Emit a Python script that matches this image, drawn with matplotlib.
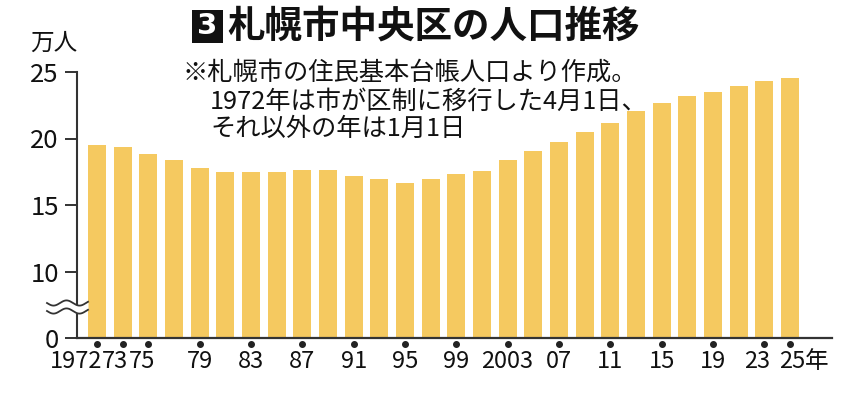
import numpy as np
import matplotlib
matplotlib.use("Agg")
import matplotlib.pyplot as plt
from matplotlib.transforms import offset_copy
from matplotlib.patches import Rectangle

plt.rcParams['font.family'] = ['Noto Sans CJK JP', 'DejaVu Sans']

# ---- data (population, 10k people) ----
years = [1972, 1973, 1975, 1977, 1979, 1981, 1983, 1985, 1987, 1989, 1991, 1993,
         1995, 1997, 1999, 2001, 2003, 2005, 2007, 2009, 2011, 2013, 2015, 2017,
         2019, 2021, 2023, 2025]
population = [19.51, 19.36, 18.81, 18.36, 17.76, 17.50, 17.50, 17.48, 17.66, 17.66,
              17.18, 16.98, 16.65, 16.98, 17.31, 17.56, 18.38, 19.06, 19.76, 20.49,
              21.14, 22.07, 22.65, 23.16, 23.46, 23.92, 24.32, 24.54]
labeled_years = [1972, 1973, 1975, 1979, 1983, 1987, 1991, 1995, 1999, 2003, 2007,
                 2011, 2015, 2019, 2023, 2025]
tick_labels = ['1972', '73', '75', '79', '83', '87', '91', '95', '99', '2003', '07',
               '11', '15', '19', '23', '25']
yticks = [0, 10, 15, 20, 25]
ytick_labels = ['0', '10', '15', '20', '25']

title = '札幌市中央区の人口推移'
note_lines = ['※札幌市の住民基本台帳人口より作成。',
              '1972年は市が区制に移行した4月1日、',
              'それ以外の年は1月1日']

NUM_FONT = ['Noto Sans CJK JP', 'DejaVu Sans']

W, H = 849, 394
fig = plt.figure(figsize=(W / 100, H / 100), dpi=100)
fig.patch.set_facecolor('white')

ax = fig.add_axes([77 / W, 1 - 338 / H, (832 - 77) / W, (338 - 72) / H])


def fwd(v):
    v = np.asarray(v, dtype=float)
    return np.where(v >= 10, v - 5, v / 2)


def inv(u):
    u = np.asarray(u, dtype=float)
    return np.where(u >= 5, u + 5, u * 2)


ax.set_yscale('function', functions=(fwd, inv))

x = np.arange(len(years))
ax.bar(x, population, width=0.7, color='#F5C960', zorder=2)
ax.set_xlim(-0.78, len(years) - 1 + 1.64)
ax.set_ylim(0, 25)

for s in ['top', 'right', 'bottom']:
    ax.spines[s].set_visible(False)
ax.spines['left'].set_color('#333333')
ax.spines['left'].set_linewidth(1.5)
ax.plot([0, 1], [0, 0], transform=ax.transAxes, color='#333333', lw=1.6,
        clip_on=False, zorder=4)

ax.set_xticks([])
ax.set_yticks(yticks)
ax.set_yticklabels(ytick_labels)
ax.yaxis.set_minor_locator(matplotlib.ticker.NullLocator())
ax.tick_params(axis='y', length=9, width=1.4, color='#333333', pad=4,
               labelsize=18.5)
for lbl in ax.get_yticklabels():
    lbl.set_family(NUM_FONT)
    lbl.set_color('#111111')

# dots and x labels
idx_of = {y: i for i, y in enumerate(years)}
label_idx = [idx_of[y] for y in labeled_years]
dot_tr = offset_copy(ax.transData, fig=fig, y=-6, units='dots')
ax.plot(label_idx, [0] * len(label_idx), 'o', ms=4, color='#222222',
        transform=dot_tr, clip_on=False, zorder=5)

shift = {1972: -0.8, 1973: -0.28, 1975: -0.25, 2023: -0.29, 2025: 0.08}
lab_tr = offset_copy(ax.transData, fig=fig, y=-23, units='dots')
for yr, i, lbl in zip(labeled_years, label_idx, tick_labels):
    ax.text(i + shift.get(yr, 0), 0, lbl, transform=lab_tr, ha='center',
            va='center', fontsize=17, color='#111111', family=NUM_FONT)
nen_tr = offset_copy(ax.transData, fig=fig, x=15, y=-23, units='dots')
ax.text(label_idx[-1], 0, '年', transform=nen_tr, ha='left', va='center',
        fontsize=17, color='#111111')

# unit label
fig.text(54 / W, 1 - 43 / H, '万人', ha='center', va='center', fontsize=17,
         color='#111111')

# axis break mark
t = np.linspace(47, 88, 200)
wave = 2.6 * np.sin(2 * np.pi * (t - 47) / 26)
y1 = 303 + wave
y2 = 311 + wave
ax.fill_between(t / W, 1 - y1 / H, 1 - y2 / H, transform=fig.transFigure,
                color='white', clip_on=False, zorder=6, lw=0)
for yy in (y1, y2):
    ax.plot(t / W, 1 - yy / H, transform=fig.transFigure, color='#333333',
            lw=1.3, clip_on=False, zorder=7)

# title
fig.add_artist(Rectangle((192 / W, 1 - 43 / H), 31 / W, 33 / H,
                         transform=fig.transFigure, facecolor='#111111',
                         edgecolor='none'))
fig.text(207.5 / W, 1 - 26.5 / H, '3', ha='center', va='center', fontsize=21,
         fontweight='bold', color='white', family=['DejaVu Sans'])
fig.text(227 / W, 1 - 26 / H, title, ha='left', va='center', fontsize=27,
         fontweight='bold', color='#111111')

# note
note_pos = [(183, 73), (210, 102), (210, 129)]
for (px, py), line in zip(note_pos, note_lines):
    fig.text(px / W, 1 - py / H, line, ha='left', va='center', fontsize=18.2,
             color='#111111')

fig.savefig('out.png', dpi=100, facecolor='white')
